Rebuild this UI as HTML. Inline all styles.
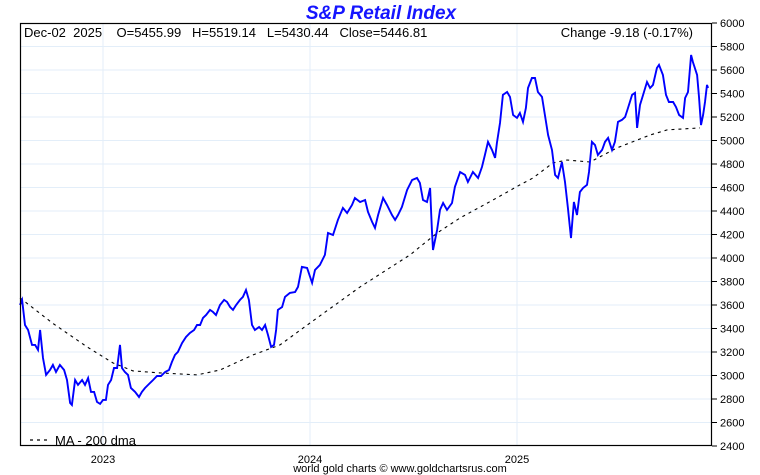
<!DOCTYPE html>
<html><head><meta charset="utf-8"><style>
html,body{margin:0;padding:0;background:#fff;}
svg{display:block;font-family:"Liberation Sans",sans-serif;}
</style></head><body>
<svg id="chart" width="760" height="475" viewBox="0 0 760 475" xmlns="http://www.w3.org/2000/svg">
<text x="381" y="19" text-anchor="middle" font-size="19" font-weight="bold" font-style="italic" fill="#1515ff">S&amp;P Retail Index</text>
<g id="grid"></g>
<g id="series"></g>
<rect x="20.5" y="23.5" width="691" height="422" fill="none" stroke="#000" stroke-width="1.2"/>
<text x="24" y="37" font-size="13" fill="#000" xml:space="preserve">Dec-02  2025    O=5455.99   H=5519.14   L=5430.44   Close=5446.81</text>
<text x="693" y="37" text-anchor="end" font-size="13" fill="#000">Change -9.18 (-0.17%)</text>
<g id="yaxis"></g>
<g id="xaxis"></g>
<g>
<line x1="30" y1="440" x2="50" y2="440" stroke="#000" stroke-width="1.2" stroke-dasharray="3,4"/>
<text x="55" y="445" font-size="13" fill="#000">MA - 200 dma</text>
</g>
<text x="400" y="472" text-anchor="middle" font-size="11" fill="#000">world gold charts © www.goldchartsrus.com</text>
</svg>
<script>
const priceT=[2022.599,2022.609,2022.623,2022.638,2022.657,2022.672,2022.686,2022.696,2022.710,2022.725,2022.744,2022.758,2022.773,2022.792,2022.812,2022.826,2022.841,2022.850,2022.865,2022.879,2022.899,2022.913,2022.928,2022.942,2022.957,2022.971,2022.986,2023.000,2023.014,2023.024,2023.039,2023.053,2023.068,2023.082,2023.092,2023.106,2023.121,2023.135,2023.155,2023.174,2023.188,2023.203,2023.222,2023.242,2023.261,2023.280,2023.300,2023.319,2023.333,2023.348,2023.362,2023.382,2023.401,2023.420,2023.440,2023.454,2023.469,2023.483,2023.498,2023.517,2023.531,2023.546,2023.565,2023.585,2023.599,2023.614,2023.628,2023.643,2023.662,2023.676,2023.691,2023.705,2023.720,2023.734,2023.754,2023.768,2023.783,2023.797,2023.812,2023.826,2023.836,2023.845,2023.865,2023.879,2023.903,2023.928,2023.942,2023.961,2023.986,2024.010,2024.024,2024.048,2024.072,2024.087,2024.111,2024.135,2024.159,2024.179,2024.203,2024.217,2024.242,2024.266,2024.280,2024.300,2024.314,2024.329,2024.353,2024.372,2024.396,2024.411,2024.425,2024.444,2024.469,2024.493,2024.517,2024.531,2024.546,2024.565,2024.580,2024.589,2024.594,2024.614,2024.628,2024.643,2024.662,2024.686,2024.700,2024.725,2024.749,2024.763,2024.787,2024.812,2024.831,2024.845,2024.860,2024.879,2024.894,2024.903,2024.918,2024.932,2024.952,2024.966,2024.981,2025.000,2025.014,2025.029,2025.043,2025.053,2025.072,2025.087,2025.101,2025.121,2025.135,2025.150,2025.169,2025.184,2025.198,2025.217,2025.232,2025.246,2025.261,2025.275,2025.290,2025.304,2025.319,2025.338,2025.348,2025.362,2025.377,2025.391,2025.411,2025.425,2025.440,2025.459,2025.473,2025.488,2025.507,2025.522,2025.536,2025.556,2025.570,2025.580,2025.594,2025.609,2025.628,2025.643,2025.657,2025.676,2025.686,2025.705,2025.720,2025.734,2025.754,2025.768,2025.783,2025.802,2025.812,2025.826,2025.841,2025.850,2025.870,2025.879,2025.889,2025.899,2025.908,2025.918,2025.923];
const priceV=[3600,3643,3430,3387,3260,3260,3218,3387,3149,3005,3047,3090,3030,3090,3047,2962,2767,2750,2962,2920,2962,2920,2979,2860,2860,2775,2758,2792,2792,2920,2962,3064,3064,3260,3064,3030,3005,2894,2860,2817,2860,2894,2928,2962,2996,2996,3030,3047,3115,3175,3201,3277,3328,3362,3387,3430,3430,3490,3515,3558,3541,3515,3600,3643,3626,3583,3558,3600,3643,3669,3728,3643,3430,3387,3413,3387,3430,3345,3243,3260,3387,3558,3583,3669,3703,3711,3754,3924,3915,3788,3898,3941,4026,4213,4196,4324,4426,4383,4451,4511,4477,4494,4392,4307,4256,4366,4511,4451,4366,4324,4366,4434,4579,4664,4681,4639,4494,4477,4596,4239,4068,4239,4409,4468,4409,4468,4605,4732,4707,4647,4732,4681,4775,4877,4988,4920,4852,4979,5149,5388,5413,5371,5217,5192,5234,5158,5277,5447,5532,5532,5413,5371,5217,5047,4919,4707,4681,4817,4647,4426,4170,4477,4366,4562,4596,4622,4732,4988,4962,4877,4920,4988,5022,4920,4988,5158,5175,5200,5277,5388,5405,5107,5302,5388,5498,5447,5473,5617,5643,5558,5388,5328,5328,5285,5217,5192,5362,5413,5728,5668,5558,5371,5132,5217,5328,5473,5447];
const maT=[2022.599,2022.758,2022.923,2023.048,2023.145,2023.275,2023.454,2023.565,2023.725,2023.855,2024.000,2024.242,2024.483,2024.614,2024.725,2024.884,2025.014,2025.077,2025.174,2025.242,2025.353,2025.483,2025.643,2025.725,2025.884];
const maV=[3660,3443,3243,3107,3039,3022,3005,3047,3175,3260,3447,3754,4026,4213,4341,4494,4622,4681,4809,4834,4817,4937,5047,5090,5107];
const yTicks=[2400,2600,2800,3000,3200,3400,3600,3800,4000,4200,4400,4600,4800,5000,5200,5400,5600,5800,6000];
const xTicks=[2023,2024,2025];
const xTickLabels=["2023","2024","2025"];

const NS="http://www.w3.org/2000/svg";
const L=20,R=712,T=23,B=446;
const xS=t=>103+(t-2023)*207;
const yS=v=>T+(6000-v)*(B-T)/3600;
function mk(tag,attrs,parent){const e=document.createElementNS(NS,tag);for(const k in attrs)e.setAttribute(k,attrs[k]);parent.appendChild(e);return e;}
const grid=document.getElementById('grid'),ya=document.getElementById('yaxis'),xa=document.getElementById('xaxis'),ser=document.getElementById('series');
yTicks.forEach(v=>{
  const y=yS(v);
  if(v>2400&&v<6000){const g=mk('line',{x1:L,x2:R,y1:y,y2:y,stroke:'#e3eef9','stroke-width':1},grid);
  
  }
  const tk=mk('line',{x1:R,x2:R+5,y1:y,y2:y,stroke:'#000','stroke-width':1},ya);
  
  
  const tx=mk('text',{x:R+8,y:y+4,'font-size':11,fill:'#000'},ya);
  
  
  tx.textContent=v;
});
xTicks.forEach((t,i)=>{
  const x=xS(t);
  const g=mk('line',{x1:x,x2:x,y1:T,y2:B,stroke:'#e3eef9','stroke-width':1},grid);
  
  
  const tx=mk('text',{x:x,y:463,'text-anchor':'middle','font-size':11,fill:'#000'},xa);
  
  
  tx.textContent=xTickLabels[i];
});
const maPts=maT.map((t,i)=>xS(t).toFixed(1)+','+yS(maV[i]).toFixed(1)).join(' ');
const ma=mk('polyline',{points:maPts,fill:'none',stroke:'#000','stroke-width':1.1,'stroke-dasharray':'3,4'},ser);


const pPts=priceT.map((t,i)=>xS(t).toFixed(1)+','+yS(priceV[i]).toFixed(1)).join(' ');
const pl=mk('polyline',{points:pPts,fill:'none',stroke:'#0000ff','stroke-width':1.9,'stroke-linejoin':'miter'},ser);


</script>
</body></html>
